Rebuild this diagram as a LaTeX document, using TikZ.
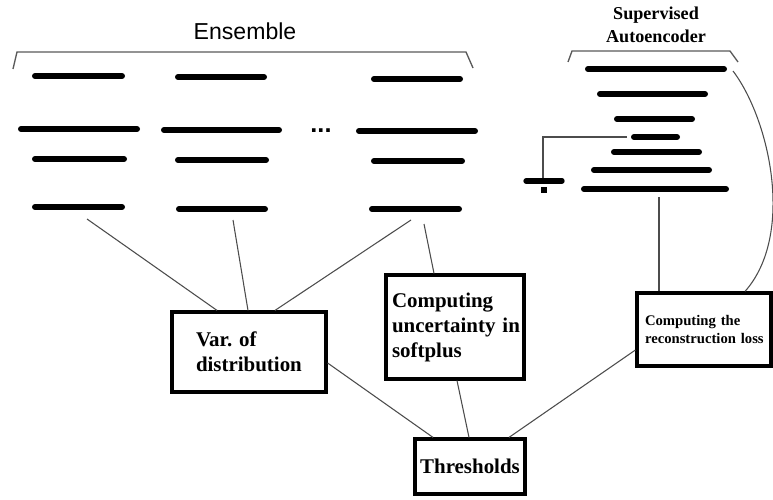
\documentclass[tikz,border=0pt]{standalone}
\usepackage{fontspec}
\setmainfont{Liberation Serif}
\newfontfamily\ensfont{Liberation Sans}
\usetikzlibrary{calc}
\frenchspacing
\begin{document}
\begin{tikzpicture}[x=0.75pt,y=-0.75pt,
  bar/.style={line width=4.5pt,line cap=round,black},
  conn/.style={line width=0.8pt,black!70},
  brk/.style={line width=1pt,black!65},
  boxnode/.style={draw,line width=2.4pt,inner sep=0pt,anchor=center,align=left},
]
\useasboundingbox (0,0) rectangle (773,499);
% titles
\node[font=\ensfont\fontsize{17.3}{20}\selectfont] (enstitle) at (245,31) {Ensemble};
\node[font=\bfseries\fontsize{13.6}{17}\selectfont,align=center] (saetitle) at (656,25) {Supervised\\Autoencoder};
% brackets
\draw[brk] (13,69) -- (17,52) -- (466,52) -- (473,68);
\draw[brk] (568,62) -- (572,51) -- (730,51) -- (738,62);
% ensemble bars
\foreach \a/\b/\y in {33/124/76, 19/139/129, 33/126/159, 33/124/207,
                      176/266/77, 162/281/130, 176/268/160, 177/267/209,
                      372/462/79, 357/477/131, 372/464/161, 370/461/209}
  \draw[bar] (\a+2,\y) -- (\b-2,\y);
\node[font=\ensfont\bfseries\fontsize{19}{20}\selectfont,inner sep=0pt] (dots) at (321,131) {...};
% autoencoder bars
\foreach \a/\b/\y in {586/726/69, 598/707/94, 615/694/119, 632/679/137,
                      612/701/152, 592/711/170, 582/728/189}
  \draw[bar] (\a+2,\y) -- (\b-2,\y);
% latent tap
\coordinate (lat) at (627,137);
\coordinate (gtop) at (543,180);
\draw[conn] (lat) -- (543,137) -- (gtop);
\draw[line width=4pt,line cap=round] (526,181) -- (562,181);
\fill (541,187) rectangle (547,193);
% boxes
\node[boxnode,minimum width=154pt*0.75,minimum height=80pt*0.75,text width=106pt*0.75,font=\bfseries\fontsize{15.7}{18.75}\selectfont] (var) at (249,352) {\mbox{Var. of}\\\mbox{distribution}};
\node[boxnode,minimum width=138pt*0.75,minimum height=104pt*0.75,text width=126pt*0.75,font=\bfseries\fontsize{15.7}{18.75}\selectfont] (unc) at (455,327) {\mbox{Computing}\\\mbox{uncertainty in}\\\mbox{softplus}};
\node[boxnode,minimum width=134pt*0.75,minimum height=73pt*0.75,text width=118pt*0.75,font=\bfseries\fontsize{11}{13.5}\selectfont] (rec) at (704,329.5) {\mbox{Computing the}\\\mbox{reconstruction loss}};
\node[boxnode,minimum width=110pt*0.75,minimum height=55pt*0.75,align=center,font=\bfseries\fontsize{15.7}{18}\selectfont] (thr) at (470,466.5) {Thresholds};
% connector start points
\coordinate (e1) at (87,219);
\coordinate (e2) at (233,220);
\coordinate (e3) at (411,220);
\coordinate (e4) at (424,224);
\coordinate (ae) at (659,197);
\coordinate (ac) at (733,71);
% connectors
\draw[conn] (e1) -- (var.north -| 217,0);
\draw[conn] (e2) -- (var.north -| 248,0);
\draw[conn] (e3) -- (var.north -| 275,0);
\draw[conn] (e4) -- (unc.north -| 434,0);
\draw[conn] (var.east |- 0,363) -- (thr.north -| 433,0);
\draw[conn] (unc.south -| 457,0) -- (thr.north -| 469,0);
\draw[conn] (rec.west |- 0,350) -- (thr.north -| 509,0);
\draw[conn] (ae) -- (rec.north -| 659,0);
\draw[conn] (ac) .. controls (770,120) and (795,235) .. (rec.north -| 745,0);
\end{tikzpicture}
\end{document}
